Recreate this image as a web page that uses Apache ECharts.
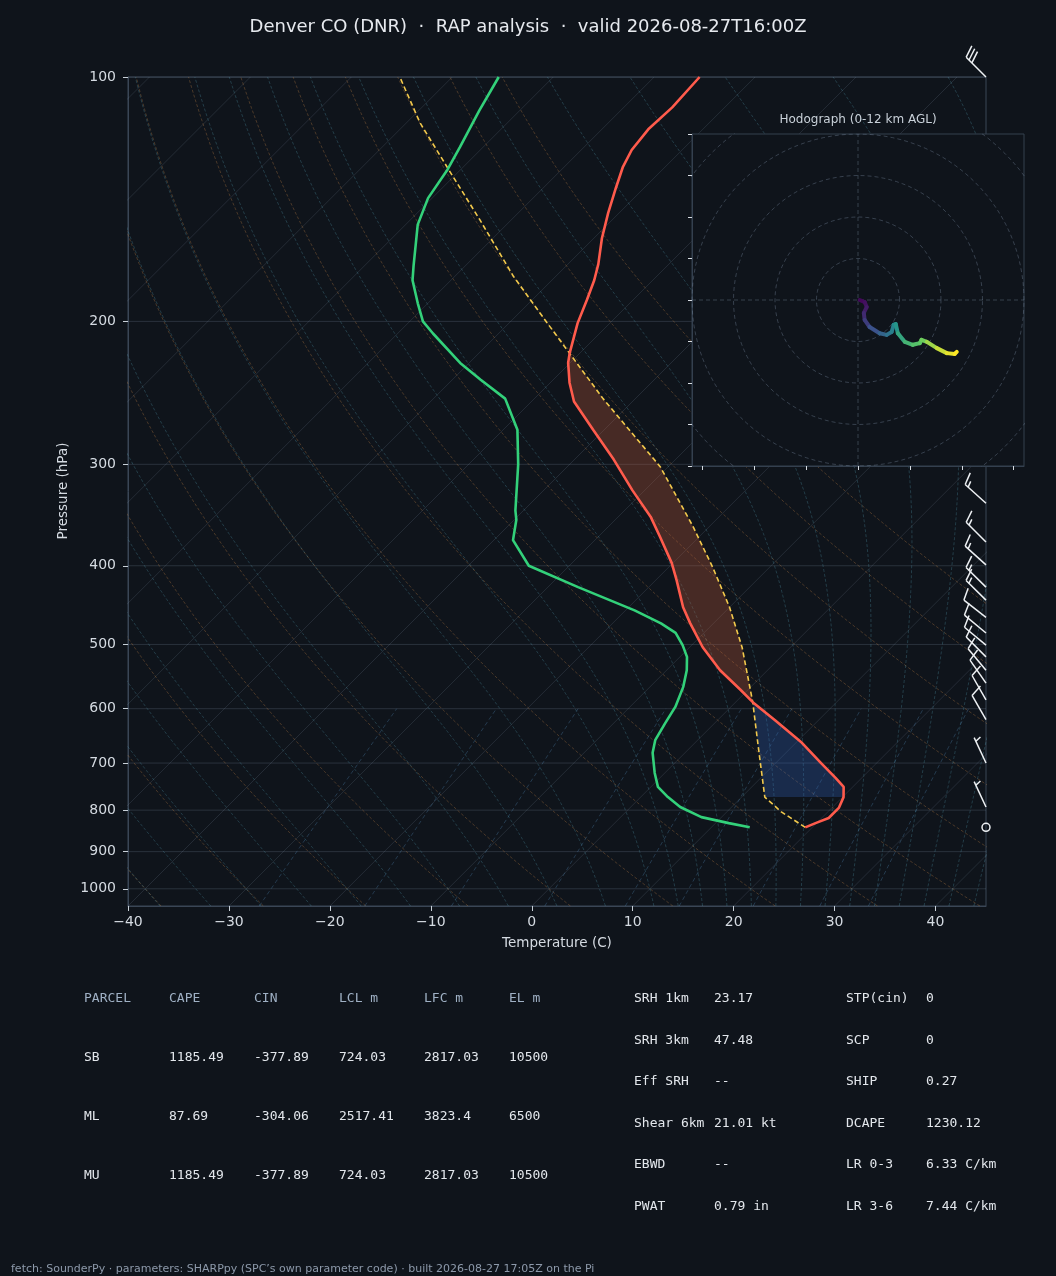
<!DOCTYPE html>
<html>
<head>
<meta charset="utf-8">
<script src="https://cdn.jsdelivr.net/npm/echarts@6/dist/echarts.min.js"></script>
<style>
  html, body { margin: 0; padding: 0; background: #0f141b; }
  #chart { width: 1056px; height: 1276px; }
</style>
</head>
<body>
<div id="chart"></div>
<script>
// ---- sounding (pressure hPa, temperature C) ----
const tempP = [840, 830, 818, 795, 771, 749, 730, 700, 661, 620, 589, 569, 538, 504, 471, 450, 417, 397, 369, 348,
               323, 296, 272, 251, 238, 225, 219, 201, 188, 178, 170, 158, 147, 137, 129, 123, 116, 109, 100];
const tempT = [19.3, 19.9, 20.7, 20.7, 20.1, 19.1, 17.4, 14.5, 10.6, 5.7, 1.7, -0.7, -4.7, -8.7, -12.3, -14.6, -17.9, -20.1, -23.8, -26.8,
               -31.2, -36.1, -41.1, -45.8, -48.1, -50.2, -51.0, -53.2, -54.6, -55.8, -57.0, -59.2, -61.1, -62.8, -64.2, -65.0, -65.4, -65.2, -65.5];

const dewP = [840, 830, 816, 793, 771, 749, 720, 680, 656, 625, 597, 564, 538, 518, 501, 484, 471, 454, 425, 400,
              372, 351, 342, 300, 272, 249, 236, 225, 207, 200, 190, 178, 171, 152, 141, 130, 122, 110, 100];
const dewT = [13.8, 11.3, 8.0, 4.9, 2.7, 0.7, -1.0, -3.2, -4.2, -4.9, -5.5, -6.7, -8.0, -9.3, -10.9, -12.8, -15.2, -19.1, -27.0, -34.0,
              -38.1, -39.8, -40.8, -45.1, -48.6, -52.9, -57.2, -60.9, -66.5, -68.7, -71.0, -73.8, -75.1, -78.8, -80.4, -81.3, -82.3, -84.0, -85.4];

const parcelP = [840, 804, 771, 669, 589, 504, 450, 402, 358, 302, 270, 249, 219, 201, 176, 150, 130, 114, 100];
const parcelT = [19.3, 15.4, 12.3, 6.7, 1.7, -4.8, -10.0, -15.6, -21.6, -30.8, -38.0, -43.2, -51.0, -56.2, -64.2, -73.1, -81.2, -88.6, -95.2];

const LCL_P = 771, LFC_P = 589, EL_P = 219;

// wind barbs (kt)
const windP = [840, 793, 700, 619, 585, 558, 538, 518, 501, 484, 463, 441, 425, 399, 374, 335, 100];
const windU = [0, 2.1, 2.1, 5.0, 5.0, 5.7, 6.4, 7.1, 7.7, 7.7, 9.5, 10.0, 10.0, 11.1, 10.6, 11.1, 21.2];
const windV = [0, -4.5, -4.5, -8.7, -8.7, -8.2, -7.7, -7.1, -6.4, -6.4, -7.4, -9.9, -9.9, -10.0, -10.6, -10.0, -21.2];

// hodograph 0-12 km (kt, km AGL)
const hodoU = [0.4, 1.6, 2.1, 1.4, 1.6, 2.8, 5.2, 6.9, 8.1, 8.6, 9.1, 9.6, 11.3, 13.2, 14.9, 15.3, 16.6, 19.0, 21.4, 23.3, 23.8];
const hodoV = [0, -0.5, -1.7, -3.1, -4.8, -6.5, -8.0, -8.4, -7.7, -6.0, -5.8, -8.0, -10.1, -10.8, -10.4, -9.6, -10.1, -11.6, -12.8, -13.0, -12.5];
const hodoZ = [0, 0.3, 0.6, 1.0, 1.5, 2.2, 3.0, 3.8, 4.5, 5.2, 5.6, 6.2, 7.0, 7.8, 8.5, 8.9, 9.3, 10.2, 11.0, 11.6, 12.0];

const pressureTicks = [100, 200, 300, 400, 500, 600, 700, 800, 900, 1000];
const tempTicks = [-40, -30, -20, -10, 0, 10, 20, 30, 40];
const hodoRings = [10, 20, 30, 40, 50];

// parameter table
const parcelHeader = ['PARCEL', 'CAPE', 'CIN', 'LCL m', 'LFC m', 'EL m'];
const parcelRows = [
  ['SB', '1185.49', '-377.89', '724.03', '2817.03', '10500'],
  ['ML', '87.69', '-304.06', '2517.41', '3823.4', '6500'],
  ['MU', '1185.49', '-377.89', '724.03', '2817.03', '10500']
];
const paramLabelsA = ['SRH 1km', 'SRH 3km', 'Eff SRH', 'Shear 6km', 'EBWD', 'PWAT'];
const paramValuesA = ['23.17', '47.48', '--', '21.01 kt', '--', '0.79 in'];
const paramLabelsB = ['STP(cin)', 'SCP', 'SHIP', 'DCAPE', 'LR 0-3', 'LR 3-6'];
const paramValuesB = ['0', '0', '0.27', '1230.12', '6.33 C/km', '7.44 C/km'];

// ---- skew-T geometry ----
const GRID = {left: 128, top: 77, width: 858, height: 829};
const P_TOP = 100, P_BOT = 1050, T_MIN = -40, T_MAX = 45;
const SKEW = (GRID.height / Math.log(P_BOT / P_TOP)) / (GRID.width / (T_MAX - T_MIN)); // 45 deg isotherms
function sk(t, p) { return [t + SKEW * Math.log(P_BOT / p), Math.log(p)]; }
const GAP = ['-', '-'];

function joinLines(lines) {
  const out = [];
  lines.forEach(l => { l.forEach(pt => out.push(pt)); out.push(GAP); });
  return out;
}

const bgP = [];
for (let i = 0; i <= 80; i++) bgP.push(P_BOT * Math.pow(P_TOP / P_BOT, i / 80));

// background: isobars, isotherms, dry / moist adiabats, mixing ratio
const isobarLines = pressureTicks.map(p => [[T_MIN, Math.log(p)], [T_MAX, Math.log(p)]]);
const isothermLines = [];
for (let t = -130; t <= 40; t += 10) isothermLines.push([sk(t, P_BOT), sk(t, P_TOP)]);

const dryLines = [];
for (let th = -50; th <= 90; th += 10) {
  dryLines.push(bgP.map(p => sk((th + 273.15) * Math.pow(p / 1000, 0.2857) - 273.15, p)));
}

const RD = 287.04, CP = 1005.7, LV = 2.501e6, EPS = 0.622;
function moistSlope(p, tk) {
  const tc = tk - 273.15;
  const es = 6.112 * Math.exp(17.67 * tc / (tc + 243.5));
  const rs = EPS * es / (p - es);
  return (RD * tk + LV * rs) / (CP + LV * LV * rs * EPS / (RD * tk * tk)) / p;
}
function rk4(p, t, h) {
  const k1 = moistSlope(p, t);
  const k2 = moistSlope(p + h / 2, t + h * k1 / 2);
  const k3 = moistSlope(p + h / 2, t + h * k2 / 2);
  const k4 = moistSlope(p + h, t + h * k3);
  return t + h * (k1 + 2 * k2 + 2 * k3 + k4) / 6;
}
function moistAdiabat(t0) {
  let p = 1000, t = t0 + 273.15;
  const up = [[p, t]];
  while (p > P_TOP + 1e-6) { const h = Math.max(-5, P_TOP - p); t = rk4(p, t, h); p += h; up.push([p, t]); }
  p = 1000; t = t0 + 273.15;
  const down = [];
  while (p < P_BOT - 1e-6) { const h = Math.min(5, P_BOT - p); t = rk4(p, t, h); p += h; down.push([p, t]); }
  return down.reverse().concat(up).map(([pp, tt]) => sk(tt - 273.15, pp));
}
const moistT0 = [];
for (let t = -50; t <= 10; t += 5) moistT0.push(t);
for (let t = 12.5; t <= 45; t += 2.5) moistT0.push(t);
const moistLines = moistT0.map(moistAdiabat);

const mixRatios = [0.0004, 0.001, 0.002, 0.004, 0.007, 0.01, 0.016, 0.024, 0.032];
const mixLines = mixRatios.map(w => {
  const pts = [];
  for (let p = P_BOT; p >= 600; p -= 10) {
    const e = p * w / (EPS + w);
    const l = Math.log(e / 6.112);
    pts.push(sk(243.5 * l / (17.67 - l), p));
  }
  return pts;
});

function profile(P, T) { return P.map((p, i) => sk(T[i], p)); }

function band(pLow, pHigh) {
  const inRange = p => p <= pLow + 0.01 && p >= pHigh - 0.01;
  const a = parcelP.map((p, i) => [p, parcelT[i]]).filter(d => inRange(d[0]));
  const b = tempP.map((p, i) => [p, tempT[i]]).filter(d => inRange(d[0])).reverse();
  return a.concat(b);
}
const capeBand = band(LFC_P, EL_P);
const cinBand = band(LCL_P, LFC_P);

function bandSeries(poly, fill) {
  return {
    type: 'custom', z: 2, silent: true,
    data: [[0, Math.log(500)]],
    renderItem: (params, api) => ({
      type: 'polygon',
      shape: {points: poly.map(([p, t]) => api.coord(sk(t, p)))},
      style: {fill: fill}
    })
  };
}

function bgLine(data, color, dash, z) {
  return {
    type: 'line', data: data, z: z || 1, silent: true, showSymbol: false, symbol: 'none',
    lineStyle: {color: color, width: 1, type: dash || 'solid'}, animation: false
  };
}

function renderBarb(params, api) {
  const pt = api.coord([api.value(0), api.value(1)]);
  const u = api.value(2), v = api.value(3);
  const mag = Math.hypot(u, v);
  const spd = Math.round(mag / 5) * 5;
  const st = {stroke: '#eef1f4', lineWidth: 1.5, fill: null};
  if (spd < 5) return {type: 'circle', shape: {cx: pt[0], cy: pt[1], r: 4}, style: st};
  const dx = -u / mag, dy = v / mag;
  const L = 28, fh = 12, fw = 4, gap = 4;
  const tip = [pt[0] + dx * L, pt[1] + dy * L];
  const px = -dy, py = dx;
  const children = [{type: 'line', shape: {x1: pt[0], y1: pt[1], x2: tip[0], y2: tip[1]}, style: st}];
  const full = Math.floor(spd / 10);
  const half = spd % 10 >= 5;
  let k = 0;
  const feather = (scale) => {
    const sx = tip[0] - dx * gap * k, sy = tip[1] - dy * gap * k;
    children.push({type: 'line', style: st,
      shape: {x1: sx, y1: sy, x2: sx + (px * fh + dx * fw) * scale, y2: sy + (py * fh + dy * fw) * scale}});
  };
  for (let i = 0; i < full; i++) { feather(1); k++; }
  if (half) { if (full === 0) k = 1; feather(0.5); }
  return {type: 'group', children: children};
}

function renderHodo(params, api) {
  const i = params.dataIndexInside;
  if (i === 0) return null;
  const a = api.coord([api.value(0, i - 1), api.value(1, i - 1)]);
  const b = api.coord([api.value(0), api.value(1)]);
  return {
    type: 'line',
    shape: {x1: a[0], y1: a[1], x2: b[0], y2: b[1]},
    style: {stroke: api.visual('color'), lineWidth: 4, lineCap: 'round'}
  };
}

const ringData = [];
hodoRings.forEach(r => {
  for (let a = 0; a <= 360; a += 3) ringData.push([r * Math.cos(a * Math.PI / 180), r * Math.sin(a * Math.PI / 180)]);
  ringData.push(GAP);
});
ringData.push([-40, 0], [40, 0], GAP, [0, -40], [0, 40]);

// ---- text ----
const FONT = '"DejaVu Sans"';
const MONO = '"DejaVu Sans Mono"';
function txt(x, y, s, font, fill, align, extra) {
  return Object.assign({
    type: 'text', x: x, y: y, z: 20, silent: true,
    style: {text: s, font: font, fill: fill, align: align || 'left', verticalAlign: 'middle',
            textAlign: align || 'left', textVerticalAlign: 'middle'}
  }, extra || {});
}
const graphics = [
  txt(528, 27, 'Denver CO (DNR)  \u00b7  RAP analysis  \u00b7  valid 2026-08-27T16:00Z', '18px ' + FONT, '#e6e9ee', 'center'),
  txt(557, 943, 'Temperature (C)', '13.5px ' + FONT, '#d5dbe2', 'center'),
  txt(63, 491, 'Pressure (hPa)', '13.5px ' + FONT, '#d5dbe2', 'center', {rotation: Math.PI / 2}),
  txt(858, 120, 'Hodograph (0-12 km AGL)', '12px ' + FONT, '#c9d1d9', 'center'),
  txt(11, 1269, 'fetch: SounderPy \u00b7 parameters: SHARPpy (SPC\u2019s own parameter code) \u00b7 built 2026-08-27 17:05Z on the Pi',
      '11px ' + FONT, '#8d99aa', 'left')
];
const colX = [84, 169, 254, 339, 424, 509];
parcelHeader.forEach((h, j) => graphics.push(txt(colX[j], 999, h, '13px ' + MONO, '#9fb0c4')));
parcelRows.forEach((row, i) => row.forEach((c, j) => graphics.push(txt(colX[j], 1058 + i * 59, c, '13px ' + MONO, '#e3e7ec'))));
const rowY = [999, 1041, 1082, 1124, 1165, 1207];
paramLabelsA.forEach((s, i) => {
  graphics.push(txt(634, rowY[i], s, '13px ' + MONO, '#e3e7ec'));
  graphics.push(txt(714, rowY[i], paramValuesA[i], '13px ' + MONO, '#e3e7ec'));
  graphics.push(txt(846, rowY[i], paramLabelsB[i], '13px ' + MONO, '#e3e7ec'));
  graphics.push(txt(926, rowY[i], paramValuesB[i], '13px ' + MONO, '#e3e7ec'));
});

const SPINE = '#3a4656';
const TICK = '#c9d1d9';
const lnTicks = pressureTicks.map(p => Math.log(p));
const minus = v => (v < 0 ? '\u2212' + Math.abs(v) : String(v));

const option = {
  backgroundColor: '#0f141b',
  animation: false,
  grid: [
    Object.assign({show: true, borderColor: SPINE, borderWidth: 1, backgroundColor: 'transparent'}, GRID),
    {left: 692, top: 134, width: 332, height: 332, show: true, z: 4,
     backgroundColor: '#0f141b', borderColor: '#34404f', borderWidth: 1}
  ],
  xAxis: [
    {gridIndex: 0, type: 'value', min: T_MIN, max: T_MAX,
     axisLine: {show: true, onZero: false, lineStyle: {color: SPINE}},
     axisTick: {show: true, customValues: tempTicks, length: 5, lineStyle: {color: TICK}},
     axisLabel: {customValues: tempTicks, formatter: minus, color: '#d5dbe2', fontSize: 14, fontFamily: 'DejaVu Sans', margin: 9},
     splitLine: {show: false}},
    {gridIndex: 1, type: 'value', min: -40, max: 40, z: 5,
     axisLine: {show: true, onZero: false, lineStyle: {color: '#34404f'}},
     axisTick: {show: true, customValues: [-37.5, -25, -12.5, 0, 12.5, 25, 37.5], length: 4, lineStyle: {color: '#d8dde3'}},
     axisLabel: {show: false}, splitLine: {show: false}}
  ],
  yAxis: [
    {gridIndex: 0, type: 'value', inverse: true, min: Math.log(P_TOP), max: Math.log(P_BOT),
     axisLine: {show: true, onZero: false, lineStyle: {color: SPINE}},
     axisTick: {show: true, customValues: lnTicks, length: 5, lineStyle: {color: TICK}},
     axisLabel: {customValues: lnTicks, formatter: v => String(Math.round(Math.exp(v))),
                 color: '#d5dbe2', fontSize: 14, fontFamily: 'DejaVu Sans', margin: 12},
     splitLine: {show: false}},
    {gridIndex: 1, type: 'value', min: -40, max: 40, interval: 10, z: 5,
     axisLine: {show: true, onZero: false, lineStyle: {color: '#34404f'}},
     axisTick: {show: true, length: 4, lineStyle: {color: '#d8dde3'}},
     axisLabel: {show: false}, splitLine: {show: false}}
  ],
  visualMap: {
    type: 'continuous', show: false, min: 0, max: 12, dimension: 2, seriesIndex: 12,
    inRange: {color: ['#440154', '#3b528b', '#21918c', '#5ec962', '#fde725']}
  },
  graphic: graphics,
  series: [
    bgLine(joinLines(isobarLines), 'rgba(150,170,195,0.2)'),
    bgLine(joinLines(isothermLines), 'rgba(150,170,195,0.16)'),
    bgLine(joinLines(dryLines), 'rgba(185,125,70,0.35)', [3, 2]),
    bgLine(joinLines(moistLines), 'rgba(90,170,190,0.28)', [3, 2]),
    bgLine(joinLines(mixLines), 'rgba(90,150,200,0.3)', [4, 3]),
    bandSeries(capeBand, 'rgba(190,90,60,0.32)'),
    bandSeries(cinBand, 'rgba(50,100,190,0.3)'),
    {type: 'line', name: 'Parcel', data: profile(parcelP, parcelT), z: 3, showSymbol: false, symbol: 'none',
     lineStyle: {color: '#f2c94c', width: 1.6, type: [5, 3]}},
    {type: 'line', name: 'Dewpoint', data: profile(dewP, dewT), z: 3, showSymbol: false, symbol: 'none',
     lineStyle: {color: '#33d17a', width: 2.6}},
    {type: 'line', name: 'Temperature', data: profile(tempP, tempT), z: 3, showSymbol: false, symbol: 'none',
     lineStyle: {color: '#ff5b4c', width: 2.6}},
    {type: 'custom', name: 'Wind', z: 5, silent: true, clip: false,
     data: windP.map((p, i) => [T_MAX, Math.log(p), windU[i], windV[i]]),
     encode: {x: 0, y: 1}, renderItem: renderBarb},
    {type: 'line', xAxisIndex: 1, yAxisIndex: 1, data: ringData, z: 5, silent: true, showSymbol: false, symbol: 'none',
     lineStyle: {color: 'rgba(150,170,195,0.3)', width: 1, type: [4, 3]}},
    {type: 'custom', name: 'Hodograph', xAxisIndex: 1, yAxisIndex: 1, z: 6, silent: true,
     data: hodoU.map((u, i) => [u, hodoV[i], hodoZ[i]]),
     encode: {x: 0, y: 1}, renderItem: renderHodo}
  ]
};

const chart = echarts.init(document.getElementById('chart'));
chart.setOption(option);
</script>
</body>
</html>
